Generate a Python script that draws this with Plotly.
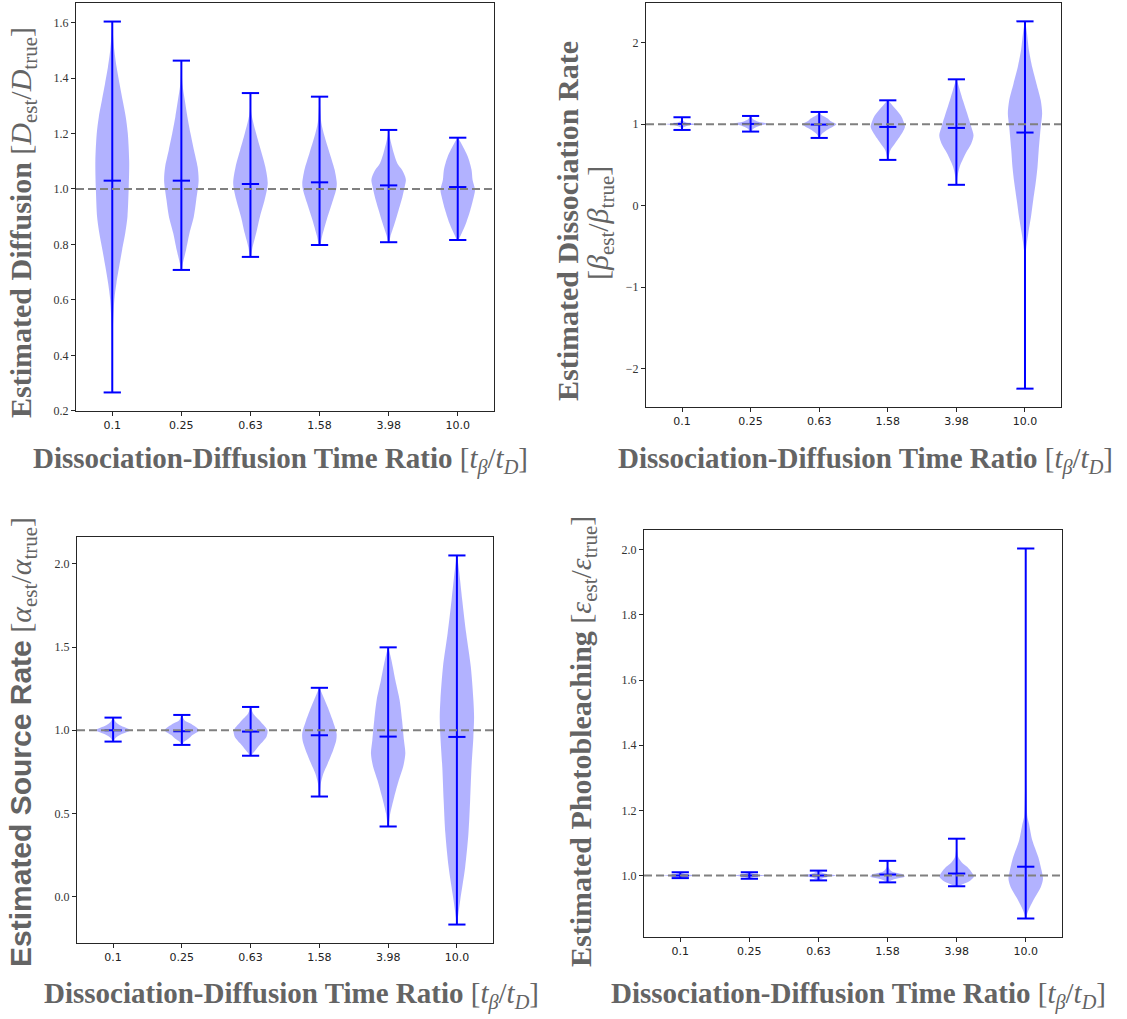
import plotly.graph_objects as go

# ---------------------------------------------------------------- data
RATIO_LABELS = ["0.1", "0.25", "0.63", "1.58", "3.98", "10.0"]
POSITIONS = [1, 2, 3, 4, 5, 6]

# Diffusion estimates D_est / D_true
DIFF_MIN = [0.266, 0.708, 0.755, 0.798, 0.808, 0.816]
DIFF_MAX = [1.604, 1.463, 1.346, 1.333, 1.213, 1.185]
DIFF_MEAN = [1.030, 1.030, 1.018, 1.024, 1.013, 1.007]
DIFF_KDE_Y = [
    [1.604, 1.56, 1.50, 1.44, 1.38, 1.32, 1.26, 1.20, 1.10, 1.00, 0.90, 0.84, 0.78, 0.72, 0.66, 0.60, 0.50, 0.40, 0.266],
    [1.463, 1.38, 1.32, 1.26, 1.20, 1.14, 1.08, 1.03, 0.96, 0.90, 0.84, 0.78, 0.73, 0.708],
    [1.346, 1.30, 1.27, 1.20, 1.14, 1.08, 1.02, 0.96, 0.90, 0.84, 0.79, 0.755],
    [1.333, 1.24, 1.19, 1.13, 1.07, 1.02, 1.00, 0.95, 0.89, 0.83, 0.798],
    [1.213, 1.189, 1.129, 1.093, 1.069, 1.044, 1.032, 1.008, 0.972, 0.924, 0.876, 0.828, 0.808],
    [1.185, 1.165, 1.117, 1.069, 1.032, 0.996, 0.972, 0.924, 0.876, 0.840, 0.816],
]
DIFF_KDE_W = [
    [0.01, 0.04, 0.12, 0.25, 0.42, 0.60, 0.78, 0.90, 0.98, 0.95, 0.88, 0.75, 0.57, 0.40, 0.24, 0.12, 0.04, 0.015, 0.005],
    [0.005, 0.06, 0.20, 0.35, 0.53, 0.73, 0.94, 1.00, 0.86, 0.72, 0.47, 0.27, 0.08, 0.02],
    [0.005, 0.02, 0.06, 0.33, 0.60, 0.86, 1.00, 0.82, 0.55, 0.33, 0.12, 0.02],
    [0.01, 0.10, 0.29, 0.58, 0.87, 1.00, 0.97, 0.73, 0.42, 0.15, 0.03],
    [0.01, 0.06, 0.30, 0.50, 0.77, 0.96, 1.00, 0.93, 0.80, 0.58, 0.35, 0.10, 0.02],
    [0.02, 0.20, 0.58, 0.80, 0.86, 1.00, 0.93, 0.73, 0.48, 0.23, 0.03],
]

# Dissociation rate estimates beta_est / beta_true
DISS_MIN = [0.930, 0.910, 0.832, 0.562, 0.256, -2.248]
DISS_MAX = [1.086, 1.102, 1.151, 1.294, 1.552, 2.264]
DISS_MEAN = [1.004, 1.004, 0.996, 0.967, 0.955, 0.898]
DISS_KDE_Y = [
    [1.086, 1.04, 1.015, 1.0, 0.985, 0.96, 0.930],
    [1.102, 1.06, 1.03, 1.005, 0.98, 0.95, 0.910],
    [1.151, 1.12, 1.07, 1.04, 1.0, 0.97, 0.93, 0.88, 0.832],
    [1.294, 1.253, 1.172, 1.090, 1.008, 0.967, 0.906, 0.824, 0.763, 0.681, 0.599, 0.562],
    [1.552, 1.458, 1.294, 1.131, 0.967, 0.865, 0.763, 0.640, 0.476, 0.353, 0.256],
    [2.264, 2.113, 1.908, 1.703, 1.499, 1.294, 1.131, 0.967, 0.681, 0.476, 0.272, 0.067, -0.137, -0.341, -0.546, -0.751, -1.16, -2.248],
]
DISS_KDE_W = [
    [0.01, 0.08, 0.35, 1.0, 0.35, 0.08, 0.01],
    [0.01, 0.15, 0.45, 1.0, 0.50, 0.20, 0.01],
    [0.01, 0.10, 0.50, 0.65, 1.0, 0.80, 0.45, 0.15, 0.01],
    [0.01, 0.19, 0.52, 0.81, 0.96, 1.0, 0.87, 0.62, 0.42, 0.15, 0.05, 0.01],
    [0.01, 0.15, 0.38, 0.63, 0.87, 1.0, 0.87, 0.54, 0.19, 0.06, 0.01],
    [0.01, 0.12, 0.23, 0.42, 0.67, 0.92, 1.0, 0.92, 0.80, 0.73, 0.62, 0.48, 0.35, 0.19, 0.06, 0.02, 0.005, 0.002],
]

# Source rate estimates alpha_est / alpha_true
SRC_MIN = [0.932, 0.912, 0.847, 0.602, 0.422, -0.167]
SRC_MAX = [1.076, 1.092, 1.140, 1.255, 1.498, 2.050]
SRC_MEAN = [1.000, 0.994, 0.992, 0.970, 0.962, 0.960]
SRC_KDE_Y = [
    [1.076, 1.05, 1.03, 1.0, 0.975, 0.955, 0.932],
    [1.092, 1.06, 1.04, 1.0, 0.97, 0.95, 0.93, 0.912],
    [1.140, 1.10, 1.05, 1.0, 0.96, 0.92, 0.88, 0.847],
    [1.255, 1.201, 1.140, 1.060, 0.980, 0.940, 0.880, 0.799, 0.739, 0.679, 0.602],
    [1.498, 1.422, 1.301, 1.181, 1.060, 0.940, 0.860, 0.779, 0.699, 0.598, 0.498, 0.422],
    [2.050, 1.964, 1.783, 1.582, 1.381, 1.181, 1.080, 0.960, 0.779, 0.578, 0.378, 0.177, -0.024, -0.125, -0.167],
]
SRC_KDE_W = [
    [0.01, 0.15, 0.40, 1.0, 0.45, 0.15, 0.01],
    [0.01, 0.15, 0.50, 1.0, 0.60, 0.40, 0.12, 0.01],
    [0.01, 0.15, 0.60, 0.98, 0.92, 0.60, 0.28, 0.01],
    [0.01, 0.23, 0.48, 0.77, 1.0, 0.98, 0.80, 0.48, 0.23, 0.08, 0.01],
    [0.01, 0.19, 0.42, 0.67, 0.81, 0.92, 1.0, 0.87, 0.62, 0.35, 0.12, 0.01],
    [0.01, 0.12, 0.31, 0.54, 0.81, 0.96, 1.0, 0.96, 0.85, 0.77, 0.67, 0.48, 0.19, 0.06, 0.01],
]

# Photobleaching estimates eps_est / eps_true
PB_MIN = [0.992, 0.990, 0.985, 0.979, 0.967, 0.868]
PB_MAX = [1.010, 1.010, 1.015, 1.045, 1.113, 2.004]
PB_MEAN = [1.000, 1.000, 1.000, 1.003, 1.006, 1.027]
PB_KDE_Y = [
    [1.010, 1.004, 1.0, 0.996, 0.992],
    [1.010, 1.004, 1.0, 0.996, 0.990],
    [1.015, 1.007, 1.0, 0.993, 0.985],
    [1.045, 1.025, 1.012, 1.003, 0.997, 0.990, 0.985, 0.979],
    [1.113, 1.08, 1.056, 1.041, 1.026, 1.010, 0.997, 0.985, 0.974, 0.967],
    [2.004, 1.5, 1.3, 1.262, 1.179, 1.159, 1.108, 1.056, 1.015, 0.990, 0.964, 0.933, 0.902, 0.882, 0.868],
]
PB_KDE_W = [
    [0.01, 0.30, 1.0, 0.30, 0.01],
    [0.01, 0.30, 1.0, 0.30, 0.01],
    [0.01, 0.30, 1.0, 0.30, 0.01],
    [0.01, 0.05, 0.25, 0.90, 1.0, 0.50, 0.20, 0.01],
    [0.01, 0.03, 0.10, 0.29, 0.62, 0.87, 1.0, 0.80, 0.38, 0.01],
    [0.002, 0.003, 0.02, 0.04, 0.10, 0.19, 0.38, 0.73, 0.92, 1.0, 0.87, 0.54, 0.23, 0.08, 0.01],
]

DIFF_TICKS = [0.2, 0.4, 0.6, 0.8, 1.0, 1.2, 1.4, 1.6]
DIFF_TICKTEXT = ["0.2", "0.4", "0.6", "0.8", "1.0", "1.2", "1.4", "1.6"]
DISS_TICKS = [-2, -1, 0, 1, 2]
DISS_TICKTEXT = ["\u22122", "\u22121", "0", "1", "2"]
SRC_TICKS = [0.0, 0.5, 1.0, 1.5, 2.0]
SRC_TICKTEXT = ["0.0", "0.5", "1.0", "1.5", "2.0"]
PB_TICKS = [1.0, 1.2, 1.4, 1.6, 1.8, 2.0]
PB_TICKTEXT = ["1.0", "1.2", "1.4", "1.6", "1.8", "2.0"]

# ---------------------------------------------------------------- style
W, H = 1127, 1019
FILL = "rgba(0,0,255,0.3)"
BLUE = "#0000ff"
LABEL_GRAY = "#646464"
HALF_WIDTH = 0.25      # violin half width (widths=0.5)
CAP_HALF = 0.125       # half length of min / max / mean bars
SERIF = "Liberation Serif, Times New Roman, serif"
SANS = "Liberation Sans, Arial, sans-serif"

# plot-area boxes in pixels: (left, right, top, bottom)
BOXES = [
    (76, 494, 3, 411),
    (646, 1061, 3, 407),
    (77, 493, 537, 943),
    (644, 1062, 530, 937),
]

panels = [
    (DIFF_MIN, DIFF_MAX, DIFF_MEAN, DIFF_KDE_Y, DIFF_KDE_W, DIFF_TICKS, DIFF_TICKTEXT),
    (DISS_MIN, DISS_MAX, DISS_MEAN, DISS_KDE_Y, DISS_KDE_W, DISS_TICKS, DISS_TICKTEXT),
    (SRC_MIN, SRC_MAX, SRC_MEAN, SRC_KDE_Y, SRC_KDE_W, SRC_TICKS, SRC_TICKTEXT),
    (PB_MIN, PB_MAX, PB_MEAN, PB_KDE_Y, PB_KDE_W, PB_TICKS, PB_TICKTEXT),
]

fig = go.Figure()
layout_axes = {}
x_lo = POSITIONS[0] - HALF_WIDTH
x_hi = POSITIONS[-1] + HALF_WIDTH
x_pad = 0.05 * (x_hi - x_lo)
x_range = [x_lo - x_pad, x_hi + x_pad]

for k, (mins, maxs, means, kde_y, kde_w, yticks, yticktext) in enumerate(panels):
    suffix = "" if k == 0 else str(k + 1)
    xa, ya = "x" + suffix, "y" + suffix

    # violin bodies
    for pos, ys, ws in zip(POSITIONS, kde_y, kde_w):
        right = [pos + HALF_WIDTH * w for w in ws]
        left = [pos - HALF_WIDTH * w for w in reversed(ws)]
        fig.add_trace(go.Scatter(
            x=right + left, y=list(ys) + list(reversed(ys)),
            mode="lines", fill="toself", fillcolor=FILL,
            line=dict(width=0, shape="spline", smoothing=0.8),
            hoverinfo="skip", showlegend=False, xaxis=xa, yaxis=ya))

    # extrema bars, caps and mean markers
    lx, ly = [], []
    for pos, lo, hi, mu in zip(POSITIONS, mins, maxs, means):
        lx += [pos, pos, None]
        ly += [lo, hi, None]
        for v in (lo, hi, mu):
            lx += [pos - CAP_HALF, pos + CAP_HALF, None]
            ly += [v, v, None]
    fig.add_trace(go.Scatter(x=lx, y=ly, mode="lines",
                             line=dict(color=BLUE, width=2),
                             hoverinfo="skip", showlegend=False,
                             xaxis=xa, yaxis=ya))

    # reference line at ratio 1
    fig.add_trace(go.Scatter(x=x_range, y=[1, 1], mode="lines",
                             line=dict(color="#808080", width=2, dash="8px,4px"),
                             hoverinfo="skip", showlegend=False,
                             xaxis=xa, yaxis=ya))

    lo_all, hi_all = min(mins), max(maxs)
    pad = 0.05 * (hi_all - lo_all)
    left, right, top, bottom = BOXES[k]
    axis_common = dict(showline=True, mirror=True, linecolor="#262626", linewidth=1,
                       ticks="outside", ticklen=4, tickwidth=1, tickcolor="#262626",
                       showgrid=False, zeroline=False, automargin=False)
    layout_axes["xaxis" + suffix] = dict(
        axis_common, domain=[left / W, right / W], anchor=ya, range=x_range,
        tickvals=POSITIONS, ticktext=RATIO_LABELS,
        tickfont=dict(family="DejaVu Sans, sans-serif", size=11, color="#222222"))
    layout_axes["yaxis" + suffix] = dict(
        axis_common, domain=[1 - bottom / H, 1 - top / H], anchor=xa,
        range=[lo_all - pad, hi_all + pad],
        tickvals=yticks, ticktext=yticktext,
        tickfont=dict(family=SERIF, size=12, color="#333333"))

XLABEL = "<b>Dissociation-Diffusion Time Ratio</b> [<i>t</i><sub><i>β</i></sub>/<i>t</i><sub><i>D</i></sub>]"


def ann(text, px, py, angle=0, family=SERIF, size=29):
    return dict(text=text, x=px / W, y=1 - py / H, xref="paper", yref="paper",
                showarrow=False, textangle=angle, xanchor="center", yanchor="middle",
                font=dict(family=family, size=size, color=LABEL_GRAY))


YS = 30
annotations = [
    ann(XLABEL, 280, 460),
    ann(XLABEL, 865, 460),
    ann(XLABEL, 291, 995),
    ann(XLABEL, 858, 995),
    ann("<b>Estimated Diffusion</b> [<i>D</i><sub>est</sub>/<i>D</i><sub>true</sub>]", 23, 223, -90, size=YS),
    ann("<b>Estimated Dissociation Rate</b>", 567, 221, -90, size=YS),
    ann("[<i>β</i><sub>est</sub>/<i>β</i><sub>true</sub>]", 600, 223, -90, size=YS),
    ann("<span style=\"font-family:Liberation Sans, Arial, sans-serif\"><b>Estimated Source Rate</b></span> "
        "[<i>α</i><sub>est</sub>/<i>α</i><sub>true</sub>]", 23, 742, -90, size=YS),
    ann("<b>Estimated Photobleaching</b> [<i>ε</i><sub>est</sub>/<i>ε</i><sub>true</sub>]", 583, 742, -90, size=YS),
]

fig.update_layout(
    width=W, height=H,
    margin=dict(l=0, r=0, t=0, b=0, pad=0, autoexpand=False),
    paper_bgcolor="white", plot_bgcolor="white",
    showlegend=False,
    annotations=annotations,
    **layout_axes,
)

fig.write_html("out.html")
